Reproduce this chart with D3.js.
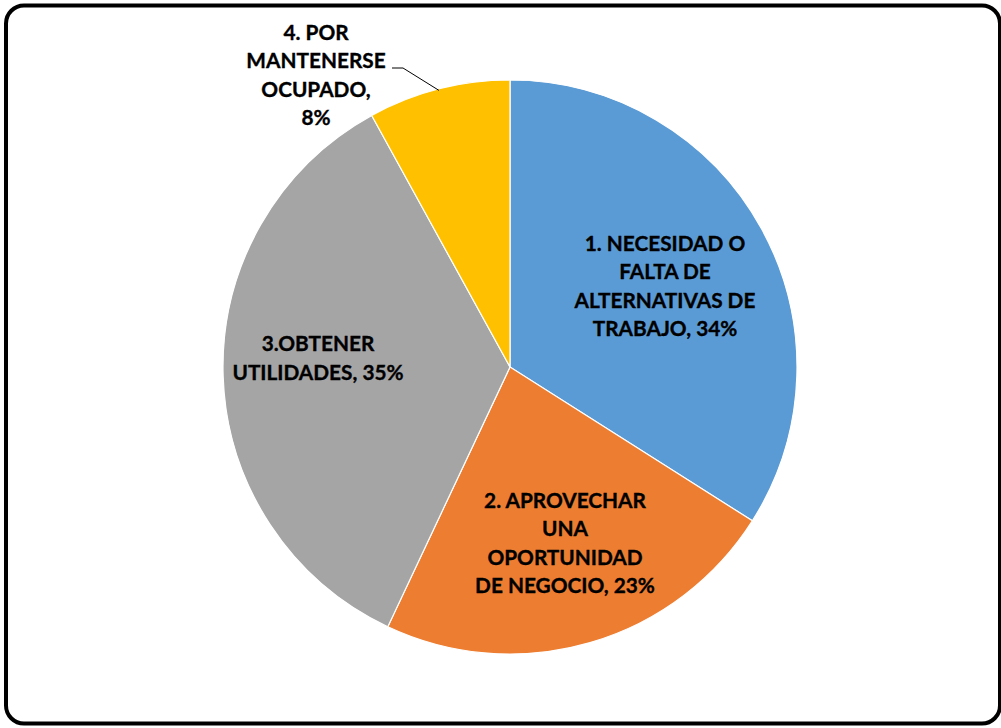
<!DOCTYPE html>
<html><head><meta charset="utf-8">
<script src="https://cdn.jsdelivr.net/npm/d3@7"></script>
<style>body{margin:0;background:#fff}svg{display:block}</style>
</head><body>
<svg id="c" width="1001" height="728"></svg>
<script>
const categories = ["1. NECESIDAD O FALTA DE ALTERNATIVAS DE TRABAJO", "2. APROVECHAR UNA OPORTUNIDAD DE NEGOCIO", "3.OBTENER UTILIDADES", "4. POR MANTENERSE OCUPADO"];
const values = [34, 23, 35, 8];
const labelLines = [
  ["1. NECESIDAD O", "FALTA DE", "ALTERNATIVAS DE", "TRABAJO, 34%"],
  ["2. APROVECHAR", "UNA", "OPORTUNIDAD", "DE NEGOCIO, 23%"],
  ["3.OBTENER", "UTILIDADES, 35%"],
  ["4. POR", "MANTENERSE", "OCUPADO,", "8%"]
];
const colors = ["#5B9BD5", "#ED7D31", "#A5A5A5", "#FFC000"];

const svg = d3.select("#c");
svg.append("rect").attr("x", 6).attr("y", 5.5).attr("width", 994).attr("height", 718)
  .attr("rx", 18).attr("fill", "#fff").attr("stroke", "#000").attr("stroke-width", 4);

const cx = 510, cy = 367, r = 287;
const g = svg.append("g").attr("transform", `translate(${cx},${cy})`);
const pie = d3.pie().sort(null).value(d => d);
const arcs = pie(values);
const arc = d3.arc().innerRadius(0).outerRadius(r);
g.selectAll("path").data(arcs).join("path")
  .attr("d", arc).attr("fill", (d, i) => colors[i])
  .attr("stroke", "#fff").attr("stroke-width", 1.2);

// label offsets from pie centre
const labelOffsets = [[155, -81], [55, 176], [-192, -9], [-194, -292]];
const lineH = 28.5;
arcs.forEach((a, i) => {
  const [x, y] = labelOffsets[i];
  const lines = labelLines[i];
  const t = g.append("text").attr("text-anchor", "middle")
    .attr("font-family", "Lato, 'Open Sans', sans-serif").attr("font-weight", "bold")
    .attr("font-size", 20.8).attr("fill", "#000")
    .attr("stroke", "#000").attr("stroke-width", 0.35);
  lines.forEach((l, j) => {
    t.append("tspan").attr("x", x).attr("y", y + (j - (lines.length - 1) / 2) * lineH)
      .attr("dy", "0.35em").text(l);
  });
});
// leader line for small slice
const a3 = arcs[3];
const m3 = (a3.startAngle + a3.endAngle) / 2;
const edge = [r * Math.sin(m3), -r * Math.cos(m3)];
g.append("polyline")
  .attr("points", [[-118, -299], [-107, -299], [edge[0] * 0.995, edge[1] * 0.995]].map(p => p.join(",")).join(" "))
  .attr("fill", "none").attr("stroke", "#000").attr("stroke-width", 1);
</script>
</body></html>
